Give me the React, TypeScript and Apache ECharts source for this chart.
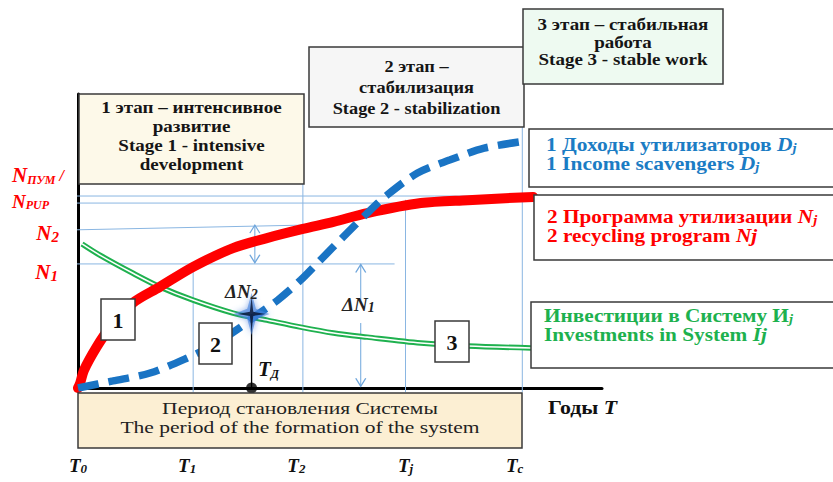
import React, { useEffect, useRef } from 'react';
import * as echarts from 'echarts';

const serif = '"Liberation Serif", "Times New Roman", serif';

// x axis ticks T0..Tc
const tTickValues = [0, 1, 2, 3, 4];
const tTickSubs = ['0', '1', '2', 'j', 'c'];

// 2 Программа утилизации Nj (red)
const programNj = [
  [0, 0], [0.02, 1.7], [0.055, 6.1], [0.17, 13.9], [0.29, 20.4], [0.5, 28.9],
  [0.75, 34.4], [1.055, 41.2], [1.42, 47.6], [1.73, 51], [2.06, 54.1],
  [2.34, 56.5], [2.65, 59.5], [3.14, 62.9], [3.57, 63.9], [4.17, 65],
];
// 1 Доходы утилизаторов Dj (blue dashed)
const incomeDj = [
  [0, 0], [0.32, 2.4], [0.66, 5.1], [1.0, 10.2], [1.24, 14.6], [1.49, 20.7],
  [1.61, 24.1], [1.83, 29.9], [2.04, 36.7], [2.22, 43.5], [2.43, 51.4],
  [2.65, 59.5], [2.82, 65.3], [3.11, 73.1], [3.41, 77.6], [3.72, 81.6], [4.1, 84],
];
// Инвестиции в Систему Иj (green double)
const investIj = [
  [0.037, 49], [0.2, 45.2], [0.5, 39.1], [0.75, 34.4], [1.055, 29.9],
  [1.42, 25.5], [1.73, 23.1], [2.04, 20.7], [2.34, 18.7], [2.65, 17.3],
  [3.14, 15.3], [3.57, 14.3], [4.15, 13.6],
];
// T_Д point (star)
const pointTD = [1.59, 25.2];
const pointTDBase = [1.59, 0];

// guide lines (levels N_PUM, N2, N1 and verticals T1, T2, Tj, Tc)
const guideSegments = [
  [[-0.165, 65.3], [4.07, 65.3]],
  [[-0.165, 62.9], [3.0, 62.9]],
  [[-0.147, 53.7], [2.06, 55.4]],
  [[-0.11, 42.2], [2.9, 42.2]],
  [[1.055, 42.2], [1.055, -1.4]],
  [[2.06, 87.4], [2.06, -1.4]],
  [[3.0, 64], [3.0, -1.4]],
  [[4.07, 98.6], [4.07, -1.4]],
];
// ΔN arrows: points and head direction at each point
const arrowSegments = [
  { pts: [[1.62, 55.4], [1.62, 42.6]], heads: ['up', 'down'] },
  { pts: [[2.59, 29.9], [2.59, 42.0]], heads: ['none', 'up'] },
  { pts: [[2.59, 22.1], [2.59, 0.6]], heads: ['none', 'down'] },
];

const arrowPath: Record<string, string> = {
  up: 'path://M0,8 L5,0 L10,8',
  down: 'path://M0,0 L5,8 L10,0',
};
const starPath = 'path://M50,0 L56,44 L100,50 L56,56 L50,100 L44,56 L0,50 L44,44 Z';

function textBox(x: number, y: number, w: number, h: number, fill: string, text: string, rich: any, tx: number, ty: number, align = 'center', sx = 1) {
  return {
    type: 'group',
    z: 100,
    children: [
      { type: 'rect', z: 100, shape: { x, y, width: w, height: h }, style: { fill, stroke: '#3a3a3a', lineWidth: 1.5 } },
      { type: 'text', z: 101, x: tx, y: ty, scaleX: sx, style: { text, rich, align, verticalAlign: 'middle' } },
    ],
  };
}

const boldTok = (size: number, color: string, lh: number) => ({ fontSize: size, fontWeight: 'bold', fontFamily: serif, fill: color, color, lineHeight: lh });
const biTok = (size: number, color: string, lh: number) => ({ fontSize: size, fontWeight: 'bold', fontStyle: 'italic', fontFamily: serif, fill: color, color, lineHeight: lh });
const subTok = (size: number, color: string, lh: number) => ({ fontSize: size, fontWeight: 'bold', fontStyle: 'italic', fontFamily: serif, fill: color, color, lineHeight: lh, verticalAlign: 'bottom' });

export default function App() {
  const ref = useRef<HTMLDivElement>(null);
  useEffect(() => {
    if (!ref.current) return;
    const chart = echarts.init(ref.current, undefined, { renderer: 'svg' });

    const series: any[] = [];
    guideSegments.forEach((seg) => {
      series.push({
        type: 'line', data: seg, symbol: 'none', clip: false, silent: true, z: 1,
        lineStyle: { color: '#8ab6e2', width: 1 },
      });
    });
    arrowSegments.forEach((a) => {
      series.push({
        type: 'line', clip: false, silent: true, z: 1, showSymbol: true,
        lineStyle: { color: '#6fa6dc', width: 1 },
        data: a.pts.map((p, i) => ({
          value: p,
          symbol: a.heads[i] === 'none' ? 'none' : arrowPath[a.heads[i]],
          symbolSize: [10, 8],
          symbolOffset: [0, a.heads[i] === 'up' ? 4 : a.heads[i] === 'down' ? -4 : 0],
          itemStyle: { color: 'rgba(0,0,0,0)', borderColor: '#6fa6dc', borderWidth: 1.2 },
        })),
      });
    });
    series.push({
      type: 'line', data: investIj, smooth: 0.3, symbol: 'none', silent: true, z: 3,
      lineStyle: { color: '#1fb14f', width: 5.5 },
    });
    series.push({
      type: 'line', data: investIj, smooth: 0.3, symbol: 'none', silent: true, z: 3,
      lineStyle: { color: '#ffffff', width: 1.6 },
    });
    series.push({
      type: 'line', data: programNj, smooth: 0.3, symbol: 'none', silent: true, z: 4,
      lineStyle: { color: '#ff0000', width: 10, cap: 'round' },
    });
    series.push({
      type: 'line', data: incomeDj, smooth: 0.3, symbol: 'none', silent: true, z: 5,
      lineStyle: { color: '#1a74c4', width: 7.5, type: [21, 10], cap: 'butt' },
    });
    series.push({
      type: 'line', data: [pointTD, pointTDBase], symbol: 'none', silent: true, z: 6,
      lineStyle: { color: '#000', width: 1.3 },
    });
    series.push({
      type: 'scatter', data: [pointTDBase], symbol: 'circle', symbolSize: 11, silent: true, z: 7,
      itemStyle: { color: '#000' },
    });
    // glow of the star
    series.push({
      type: 'scatter', data: [pointTD], silent: true, z: 8,
      symbol: 'path://M50,0 L62,38 L100,50 L62,62 L50,100 L38,62 L0,50 L38,38 Z',
      symbolSize: [36, 42],
      itemStyle: { color: 'rgba(70,130,220,0.75)', shadowBlur: 6, shadowColor: 'rgba(60,120,220,0.9)' },
    });
    // dark core of the star
    series.push({
      type: 'scatter', data: [pointTD], silent: true, z: 9,
      symbol: starPath,
      symbolSize: [28, 34],
      itemStyle: { color: '#06122e' },
    });

    const red = '#ff0000';
    const blue = '#1b7cc4';
    const green = '#1db14e';
    const dark = '#151515';

    const graphic: any[] = [
      // stage boxes
      textBox(79, 94, 225, 90, '#fdf9e9',
        '{b|1 этап – интенсивное}\n{b|развитие}\n{b|Stage 1 - intensive}\n{b|development}',
        { b: boldTok(17, dark, 19) }, 191.5, 136, 'center', 1.12),
      textBox(309, 47, 215, 80, '#f6f6f6',
        '{b|2 этап –}\n{b|стабилизация}\n{b|Stage 2 - stabilization}',
        { b: boldTok(17, dark, 21) }, 416.5, 87, 'center', 1.08),
      textBox(523, 9, 200, 75, '#eefaf1',
        '{b|3 этап – стабильная}\n{b|работа}\n{b|Stage 3 - stable work}',
        { b: boldTok(17, dark, 17.5) }, 623, 42, 'center', 1.12),
      // legend boxes
      textBox(529, 129, 310, 58, '#ffffff',
        '{a|1 Доходы утилизаторов }{i|D}{s|j}\n{a|1 Income scavengers }{i|D}{s|j}',
        { a: boldTok(19, blue, 19), i: biTok(19, blue, 19), s: subTok(13, blue, 19) }, 546, 154, 'left', 1.13),
      textBox(534, 195, 310, 65, '#ffffff',
        '{a|2 Программа утилизации }{i|N}{s|j}\n{a|2 recycling program }{i|Nj}',
        { a: boldTok(19, red, 19), i: biTok(19, red, 19), s: subTok(13, red, 19) }, 547, 226, 'left', 1.12),
      textBox(531, 302, 310, 66, '#ffffff',
        '{a|Инвестиции в Систему И}{s|j}\n{a|Investments in System }{i|Ij}',
        { a: boldTok(19, green, 19), i: biTok(19, green, 19), s: subTok(13, green, 19) }, 544, 325, 'left', 1.12),
      // period box
      textBox(78, 393, 444, 55, '#fcefd3',
        '{r|Период становления Системы}\n{r|The period of the formation of the system}',
        { r: { fontSize: 17.5, fontFamily: serif, fill: '#222', lineHeight: 19 } }, 300, 418, 'center', 1.23),
      // number boxes
      textBox(101, 299, 34, 41, '#ffffff', '{n|1}', { n: boldTok(22, '#111', 24) }, 118, 320),
      textBox(199, 323, 33, 41, '#ffffff', '{n|2}', { n: boldTok(22, '#111', 24) }, 215.5, 344),
      textBox(435, 321, 34, 41, '#ffffff', '{n|3}', { n: boldTok(22, '#111', 24) }, 452, 342),
      // left level labels
      { type: 'text', z: 100, x: 12, y: 175, style: { text: '{n|N}{s|ПУМ}{l| /}', verticalAlign: 'middle', align: 'left',
        rich: { n: biTok(21, red, 22), s: subTok(12, red, 22), l: biTok(16, red, 22) } } },
      { type: 'text', z: 100, x: 12, y: 201, style: { text: '{n|N}{s|PUP}', verticalAlign: 'middle', align: 'left',
        rich: { n: biTok(19, red, 20), s: subTok(12, red, 20) } } },
      { type: 'text', z: 100, x: 59, y: 233, style: { text: '{n|N}{s|2}', verticalAlign: 'middle', align: 'right',
        rich: { n: biTok(21, red, 22), s: subTok(15, red, 22) } } },
      { type: 'text', z: 100, x: 58, y: 272, style: { text: '{n|N}{s|1}', verticalAlign: 'middle', align: 'right',
        rich: { n: biTok(21, red, 22), s: subTok(15, red, 22) } } },
      // annotations
      { type: 'text', z: 100, x: 225, y: 291, style: { text: '{n|ΔN}{s|2}', verticalAlign: 'middle', align: 'left',
        rich: { n: biTok(19, '#222', 20), s: subTok(14, '#222', 20) } } },
      { type: 'text', z: 100, x: 342, y: 304, style: { text: '{n|ΔN}{s|1}', verticalAlign: 'middle', align: 'left',
        rich: { n: biTok(19, '#222', 20), s: subTok(14, '#222', 20) } } },
      { type: 'text', z: 100, x: 258, y: 369, style: { text: '{n|T}{s|Д}', verticalAlign: 'middle', align: 'left',
        rich: { n: biTok(21, '#111', 22), s: subTok(12, '#111', 22) } } },
      { type: 'text', z: 100, x: 548, y: 408, scaleX: 1.15, style: { text: '{g|Годы }{i|T}', verticalAlign: 'middle', align: 'left',
        rich: { g: boldTok(19, '#111', 20), i: biTok(19, '#111', 20) } } },
    ];

    chart.setOption({
      animation: false,
      backgroundColor: '#ffffff',
      grid: { left: 78, top: 94, width: 524, height: 294 },
      xAxis: {
        type: 'value', min: 0, max: 4.8, interval: 1,
        axisLine: { show: true, onZero: false, lineStyle: { color: '#000', width: 3 } },
        axisTick: { show: false },
        splitLine: { show: false },
        axisLabel: {
          margin: 67,
          showMaxLabel: false,
          formatter: (v: number) => {
            const i = tTickValues.indexOf(Math.round(v));
            if (i < 0 || Math.abs(v - Math.round(v)) > 1e-6) return '';
            return '{t|T}{s|' + tTickSubs[i] + '}';
          },
          rich: {
            t: { fontSize: 19, fontWeight: 'bold', fontStyle: 'italic', fontFamily: serif, color: '#111', lineHeight: 20 },
            s: { fontSize: 13, fontWeight: 'bold', fontStyle: 'italic', fontFamily: serif, color: '#111', lineHeight: 20, verticalAlign: 'bottom' },
          },
        },
      },
      yAxis: {
        type: 'value', min: 0, max: 100,
        axisLine: { show: true, lineStyle: { color: '#000', width: 3 } },
        axisTick: { show: false },
        axisLabel: { show: false },
        splitLine: { show: false },
      },
      series,
      graphic,
    });
    return () => chart.dispose();
  }, []);
  return <div ref={ref} style={{ position: 'absolute', left: 0, top: 0, width: 833, height: 482 }} />;
}
